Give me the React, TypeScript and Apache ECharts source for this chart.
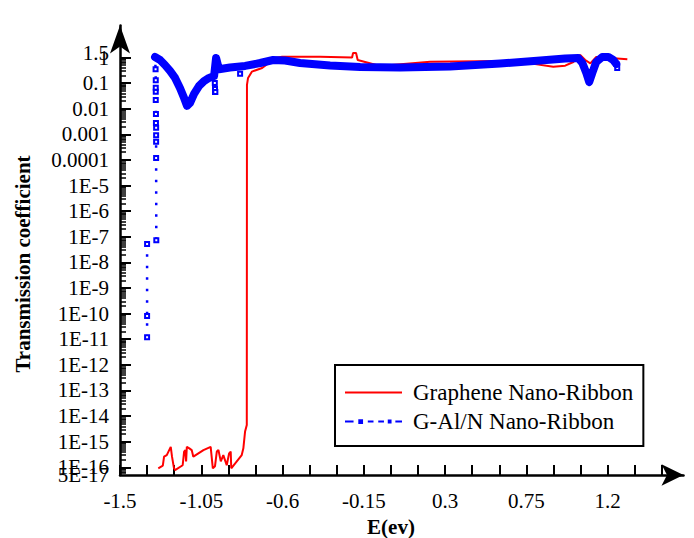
import React, { useEffect, useRef } from 'react';
import * as echarts from 'echarts';

// ---- Data (E in eV, T = transmission coefficient) ----
const grapheneE = [-1.288, -1.263, -1.256, -1.241, -1.219, -1.212, -1.201, -1.195, -1.153, -1.145, -1.138, -1.134, -1.130, -1.116, -1.103, -1.094, -1.066, -1.038, -0.998, -0.986, -0.974, -0.964, -0.955, -0.942, -0.928, -0.909, -0.896, -0.887, -0.884, -0.826, -0.817, -0.8075, -0.798, -0.797, -0.791, -0.770, -0.713, -0.641, -0.602, -0.392, -0.215, -0.2096, -0.193, -0.184, -0.060, 0.217, 0.605, 0.771, 0.899, 0.965, 1.010, 1.048, 1.076, 1.104, 1.137, 1.215, 1.309];
const grapheneT = [9.1e-17, 1.15e-16, 2.6e-16, 3.0e-16, 6.3e-16, 2.6e-16, 9.1e-17, 7.8e-17, 1.2e-16, 4.1e-16, 4.7e-16, 1.7e-16, 6.3e-16, 5.5e-16, 4.7e-16, 2.6e-16, 3.5e-16, 4.7e-16, 6.3e-16, 9.1e-17, 1.1e-16, 4.1e-16, 4.7e-16, 1.7e-16, 3.0e-16, 1.2e-16, 3.5e-16, 4.1e-16, 9.1e-17, 3.0e-16, 5.5e-16, 2.5e-15, 4.5e-15, 0.085, 0.16, 0.28, 0.39, 0.95, 1.07, 1.07, 1.0, 1.5, 1.5, 0.8, 0.47, 0.69, 0.73, 0.59, 0.44, 0.48, 0.67, 1.25, 0.80, 0.59, 1.05, 0.96, 0.85];

// G-Al/N: sparse (marker) points, null = gap
const galnDotE = [-1.35, -1.35, -1.35, -1.299, -1.30, -1.30, -1.30, -1.30, -1.301, -1.301, -1.302, -1.302, -1.302, -1.302, -1.303, -1.306, -1.0, -0.979, -0.975, -0.974, -0.974, -0.972, -0.968, -0.9, -0.835, 1.0, 1.248, 1.253];
const galnDotT = [1.2e-11, 8e-11, 5.2e-8, 7.4e-8, 1.2e-4, 5.1e-4, 9.3e-4, 1.8e-3, 2.8e-3, 6.2e-3, 0.022, 0.046, 0.066, 0.13, 0.35, 1.05, null, 0.19, 0.10, 0.059, 0.045, 0.045, 0.96, null, 0.23, null, 0.56, 0.39];

// G-Al/N: dense part of the curve
const galnCurveE = [-1.306, -1.278, -1.251, -1.223, -1.195, -1.168, -1.145, -1.129, -1.112, -1.090, -1.062, -1.035, -1.007, -0.979, -0.968, -0.952, -0.891, -0.807, -0.724, -0.652, -0.586, -0.503, -0.337, -0.170, 0.051, 0.328, 0.605, 0.827, 0.965, 1.037, 1.060, 1.082, 1.098, 1.115, 1.137, 1.170, 1.204, 1.231, 1.248];
const galnCurveT = [1.05, 0.8, 0.51, 0.30, 0.16, 0.065, 0.026, 0.013, 0.017, 0.038, 0.078, 0.12, 0.16, 0.19, 0.96, 0.35, 0.41, 0.47, 0.61, 0.80, 0.76, 0.61, 0.49, 0.43, 0.41, 0.45, 0.58, 0.76, 0.91, 0.96, 0.61, 0.25, 0.11, 0.25, 0.67, 1.05, 1.05, 0.8, 0.56];

// ---- Axes ticks / labels ----
const xLabelValues = [-1.5, -1.05, -0.6, -0.15, 0.3, 0.75, 1.2];
const xLabelTexts = ['-1.5', '-1.05', '-0.6', '-0.15', '0.3', '0.75', '1.2'];
const xTickValues = [-1.5, -1.35, -1.2, -1.05, -0.9, -0.75, -0.6, -0.45, -0.3, -0.15, 0, 0.15, 0.3, 0.45, 0.6, 0.75, 0.9, 1.05, 1.2, 1.35, 1.5];

const yLabelValues = [1e-16, 1e-15, 1e-14, 1e-13, 1e-12, 1e-11, 1e-10, 1e-9, 1e-8, 1e-7, 1e-6, 1e-5, 1e-4, 1e-3, 1e-2, 1e-1, 1];
const yLabelTexts = ['1E-16', '1E-15', '1E-14', '1E-13', '1E-12', '1E-11', '1E-10', '1E-9', '1E-8', '1E-7', '1E-6', '1E-5', '0.0001', '0.001', '0.01', '0.1', '1'];
// axis-end labels (they overlap their neighbours in the original)
const yEndLabelValues = [5e-17, 1.5];
const yEndLabelTexts = ['5E-17', '1.5'];

const Y_MIN = Math.log10(5e-17);
const Y_MAX = 1.25;
const FONT = '"Liberation Serif", "Times New Roman", serif';
const lg = (v: number) => Math.log10(v);

const RED_ICON = 'path://M0,0H60V2H0Z';
const BLUE_ICON = 'path://M0,4H9V6H0Z M14,2.5H19V7.5H14Z M24,4H30V6H24Z M35,4H41V6H35Z M45,3H49V7H45Z M53,4H60V6H53Z';

function nearestLabel(v: number, vals: number[], texts: string[]) {
  let best = 0;
  let bd = Infinity;
  vals.forEach((t, i) => {
    const d = Math.abs(t - v);
    if (d < bd) { bd = d; best = i; }
  });
  return texts[best];
}

export default function App() {
  const ref = useRef<HTMLDivElement>(null);
  useEffect(() => {
    if (!ref.current) return;
    const chart = echarts.init(ref.current, null, { renderer: 'svg' });

    const minorTicks: number[] = [];
    for (let n = -17; n <= -1; n++) {
      for (let k = 2; k <= 9; k++) {
        const v = lg(k) + n;
        if (v > Y_MIN + 1e-9 && v < 0) minorTicks.push(v);
      }
    }
    const yLabelLogs = yLabelValues.map(lg);

    const redData = grapheneE.map((e, i) => [e, lg(grapheneT[i])]);
    const dotData = galnDotE.map((e, i) => (galnDotT[i] == null ? [e, '-'] : [e, lg(galnDotT[i] as number)]));
    const curveData = galnCurveE.map((e, i) => [e, lg(galnCurveT[i])]);

    const option: any = {
      animation: false,
      backgroundColor: '#fff',
      grid: { left: 120, right: 10.5, top: 25.5, bottom: 63, containLabel: false, outerBoundsMode: 'none' },
      xAxis: {
        type: 'value',
        min: -1.5,
        max: 1.62,
        axisLine: {
          show: true,
          onZero: false,
          symbol: ['none', 'arrow'],
          symbolSize: [16, 22],
          lineStyle: { color: '#000', width: 2.5 },
        },
        axisTick: { show: true, inside: true, length: 10, customValues: xTickValues, lineStyle: { color: '#000', width: 2 } },
        axisLabel: {
          customValues: xLabelValues,
          formatter: (v: number) => nearestLabel(v, xLabelValues, xLabelTexts),
          margin: 15,
          fontSize: 21,
          fontFamily: FONT,
          color: '#000',
          showMinLabel: true,
          showMaxLabel: true,
        },
        splitLine: { show: false },
      },
      yAxis: [
        {
          type: 'value',
          min: Y_MIN,
          max: Y_MAX,
          axisLine: {
            show: true,
            onZero: false,
            symbol: ['none', 'arrow'],
            symbolSize: [15, 28],
            lineStyle: { color: '#000', width: 2.5 },
          },
          axisTick: { show: true, inside: true, length: 11, customValues: yLabelLogs, lineStyle: { color: '#000', width: 2 } },
          axisLabel: {
            customValues: yLabelLogs,
            formatter: (v: number) => nearestLabel(v, yLabelLogs, yLabelTexts),
            margin: 11,
            fontSize: 21,
            fontFamily: FONT,
            color: '#000',
            showMinLabel: true,
            showMaxLabel: true,
          },
          splitLine: { show: false },
        },
        {
          type: 'value',
          min: Y_MIN,
          max: Y_MAX,
          position: 'left',
          axisLine: { show: false, onZero: false },
          axisTick: { show: true, inside: true, length: 6, customValues: minorTicks, lineStyle: { color: '#000', width: 1.5 } },
          axisLabel: { show: false },
          splitLine: { show: false },
        },
      ],
      legend: {
        data: [
          { name: 'Graphene Nano-Ribbon', icon: RED_ICON, itemStyle: { color: '#ff0000', borderWidth: 0 } },
          { name: 'G-Al/N Nano-Ribbon', icon: BLUE_ICON, itemStyle: { color: '#0000ff', borderWidth: 0 } },
        ],
        orient: 'vertical',
        left: 335,
        top: 365,
        padding: [16, 10, 13, 10],
        itemGap: 6,
        itemWidth: 57,
        itemHeight: 14,
        symbolKeepAspect: true,
        borderColor: '#000',
        borderWidth: 2,
        borderRadius: 0,
        backgroundColor: '#fff',
        selectedMode: false,
        textStyle: { fontFamily: FONT, fontSize: 23, color: '#000', padding: [0, 0, 0, 6] },
      },
      graphic: [
        {
          type: 'text',
          x: 23,
          y: 264,
          rotation: Math.PI / 2,
          style: { text: 'Transmission coefficient', font: `bold 21px ${FONT}`, fill: '#000', align: 'center', verticalAlign: 'middle' },
        },
        {
          type: 'text',
          x: 391,
          y: 527,
          style: { text: 'E(ev)', font: `bold 21px ${FONT}`, fill: '#000', align: 'center', verticalAlign: 'middle' },
        },
      ],
      series: [
        {
          type: 'line',
          name: 'Graphene Nano-Ribbon',
          data: redData,
          showSymbol: false,
          symbol: 'none',
          lineStyle: { color: '#ff0000', width: 2 },
          itemStyle: { color: '#ff0000' },
          z: 2,
        },
        {
          type: 'line',
          name: 'G-Al/N Nano-Ribbon',
          data: dotData,
          connectNulls: false,
          symbol: 'emptyRect',
          symbolSize: 4,
          showSymbol: true,
          lineStyle: { color: '#0000ff', width: 2.5, type: [2.5, 9] },
          itemStyle: { color: '#0000ff', borderColor: '#0000ff', borderWidth: 2 },
          z: 3,
        },
        {
          type: 'line',
          name: 'G-Al/N Nano-Ribbon',
          data: curveData,
          showSymbol: false,
          symbol: 'none',
          lineStyle: { color: '#0000ff', width: 8, cap: 'round', join: 'round' },
          itemStyle: { color: '#0000ff' },
          z: 4,
        },
      ],
    };
    chart.setOption(option);

    // Axis-end labels placed through the y-axis scale
    const endLabels = yEndLabelValues.map((v, i) => {
      const p = chart.convertToPixel({ gridIndex: 0 }, [-1.5, lg(v)]) as number[];
      return {
        type: 'text',
        x: p[0] - 11,
        y: p[1],
        z: 10,
        style: { text: yEndLabelTexts[i], font: `21px ${FONT}`, fill: '#000', align: 'right', verticalAlign: 'middle' },
      };
    });
    chart.setOption({ graphic: [...option.graphic, ...endLabels] });

    return () => chart.dispose();
  }, []);
  return <div ref={ref} style={{ position: 'fixed', left: 0, top: 0, width: 694, height: 538 }} />;
}
